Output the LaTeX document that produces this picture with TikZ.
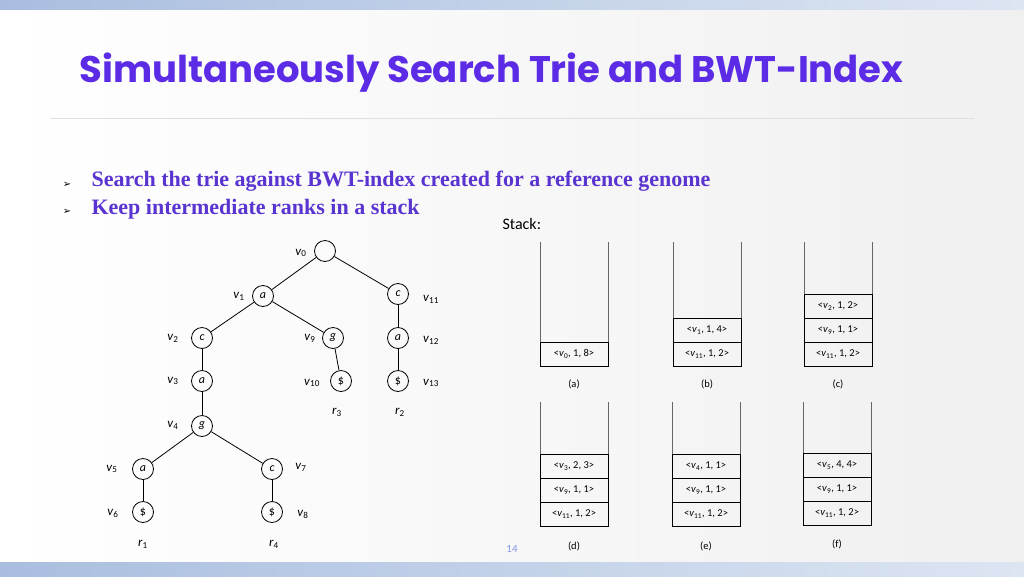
\documentclass[tikz,border=0pt]{standalone}
\usepackage{fontspec}
\setmainfont{Carlito}
\newfontfamily\titlefont{Poppins}
\newfontfamily\serifb{Liberation Serif}
\newfontfamily\dvs{DejaVu Sans}
\definecolor{ttl}{HTML}{5B2BE6}
\definecolor{bul}{HTML}{5A34D0}
\definecolor{band}{HTML}{A9BEDF}
\newcommand\vv[1]{\textit{v}\textsubscript{#1}}
\newcommand\rr[1]{\textit{r}\textsubscript{#1}}
\begin{document}
\begin{tikzpicture}[x=1pt,y=-1pt,
  tn/.style={circle,draw,thick,minimum size=21pt,inner sep=0pt,font=\fontsize{12}{12}\selectfont\itshape},
  lb/.style={font=\fontsize{13}{13}\selectfont},
  cell/.style={draw,thick,minimum width=68pt,minimum height=24pt,inner sep=0pt,font=\fontsize{10.5}{10.5}\selectfont},
  caplbl/.style={font=\fontsize{10.5}{10.5}\selectfont},
  ed/.style={thick}]
\useasboundingbox (0,0) rectangle (1024,576);
\shade[left color=white,right color=gray!12] (0,0) rectangle (1024,576);
\shade[left color=band,right color=band!40] (0,0) rectangle (1024,9);
\shade[left color=band,right color=band!40] (0,562) rectangle (1024,576);
\node[anchor=west,font=\titlefont\fontsize{37}{37}\selectfont,text=ttl] (title) at (76,73) {\textbf{Simultaneously Search Trie and BWT-Index}};
\draw[gray!25] (50,118) -- (974,118);
\node[anchor=west,font=\serifb\bfseries\fontsize{22}{22}\selectfont,text=bul] (b1) at (88,181) {Search the trie against BWT-index created for a reference genome};
\node[anchor=west,font=\serifb\bfseries\fontsize{22}{22}\selectfont,text=bul] (b2) at (88,209) {Keep intermediate ranks in a stack};
\node[font=\dvs\fontsize{10}{10}\selectfont] (m1) at (67,185) {➢};
\node[font=\dvs\fontsize{10}{10}\selectfont] (m2) at (67,212) {➢};
\node[anchor=west,font=\fontsize{16}{16}\selectfont] (stk) at (499,224) {Stack:};
\node[font=\fontsize{11}{11}\selectfont,text=band!80!blue] (pg) at (512,549) {14};
% tree
\node[tn] (v0) at (325,251) {};
\node[tn] (v1) at (263,296) {a};
\node[tn] (v11) at (398,294) {c};
\node[tn] (v2) at (202,338) {c};
\node[tn] (v9) at (333,338) {g};
\node[tn] (v12) at (398,338) {a};
\node[tn] (v3) at (202,381) {a};
\node[tn] (v10) at (341,381) {\upshape\$};
\node[tn] (v13) at (398,381) {\upshape\$};
\node[tn] (v4) at (202,426) {g};
\node[tn] (v5) at (143,469) {a};
\node[tn] (v7) at (272,469) {c};
\node[tn] (v6) at (143,512) {\upshape\$};
\node[tn] (v8) at (272,512) {\upshape\$};
\draw[ed] (v0)--(v1); \draw[ed] (v0)--(v11); \draw[ed] (v1)--(v2); \draw[ed] (v1)--(v9);
\draw[ed] (v11)--(v12); \draw[ed] (v12)--(v13); \draw[ed] (v9)--(v10);
\draw[ed] (v2)--(v3); \draw[ed] (v3)--(v4); \draw[ed] (v4)--(v5); \draw[ed] (v4)--(v7);
\draw[ed] (v5)--(v6); \draw[ed] (v7)--(v8);
\node[lb] (l0) at (301,253) {\vv{0}};
\node[lb] (l1) at (239,296) {\vv{1}};
\node[lb] (l11) at (431,299) {\vv{11}};
\node[lb] (l2) at (173,338) {\vv{2}};
\node[lb] (l9) at (310,338) {\vv{9}};
\node[lb] (l12) at (431,340) {\vv{12}};
\node[lb] (l3) at (173,381) {\vv{3}};
\node[lb] (l10) at (312,383) {\vv{10}};
\node[lb] (l13) at (431,383) {\vv{13}};
\node[lb] (r3) at (337,412) {\rr{3}};
\node[lb] (r2) at (400,412) {\rr{2}};
\node[lb] (l4) at (173,425) {\vv{4}};
\node[lb] (l5) at (112,469) {\vv{5}};
\node[lb] (l7) at (301,467) {\vv{7}};
\node[lb] (l6) at (113,513) {\vv{6}};
\node[lb] (l8) at (303,514) {\vv{8}};
\node[lb] (r1) at (143,544) {\rr{1}};
\node[lb] (r4) at (274,544) {\rr{4}};
% stacks
\newcommand\stk[3]{\draw[thick,gray!80!black] (#1,#2) -- (#1,#3) (#1+68,#2) -- (#1+68,#3);}
\stk{540}{242}{366}\stk{673}{242}{366}\stk{804}{242}{366}
\stk{540}{402}{526}\stk{672}{402}{526}\stk{803}{402}{525}
\node[cell] (a1) at (574,354) {<\vv{0}, 1, 8>};
\node[cell] (b2) at (707,330) {<\vv{1}, 1, 4>};
\node[cell] (b1) at (707,354) {<\vv{11}, 1, 2>};
\node[cell] (c3) at (838,306) {<\vv{2}, 1, 2>};
\node[cell] (c2) at (838,330) {<\vv{9}, 1, 1>};
\node[cell] (c1) at (838,354) {<\vv{11}, 1, 2>};
\node[cell] (d3) at (574,466) {<\vv{3}, 2, 3>};
\node[cell] (d2) at (574,490) {<\vv{9}, 1, 1>};
\node[cell] (d1) at (574,514) {<\vv{11}, 1, 2>};
\node[cell] (e3) at (706,466) {<\vv{4}, 1, 1>};
\node[cell] (e2) at (706,490) {<\vv{9}, 1, 1>};
\node[cell] (e1) at (706,514) {<\vv{11}, 1, 2>};
\node[cell] (f3) at (837,465) {<\vv{5}, 4, 4>};
\node[cell] (f2) at (837,489) {<\vv{9}, 1, 1>};
\node[cell] (f1) at (837,513) {<\vv{11}, 1, 2>};
\node[caplbl] (ca) at (574,384) {(a)};
\node[caplbl] (cb) at (707,384) {(b)};
\node[caplbl] (cc) at (838,384) {(c)};
\node[caplbl] (cd) at (574,546) {(d)};
\node[caplbl] (ce) at (706,546) {(e)};
\node[caplbl] (cf) at (837,544) {(f)};
\end{tikzpicture}
\end{document}
